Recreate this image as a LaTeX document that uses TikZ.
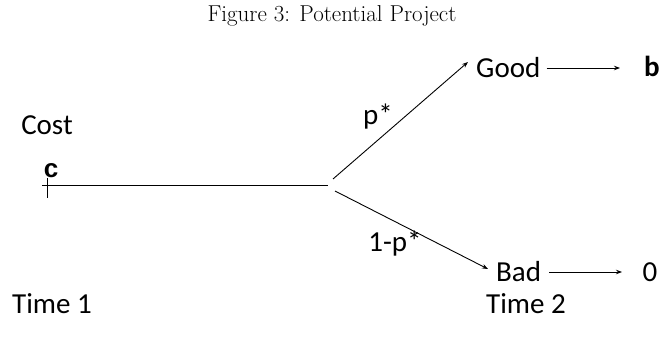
\documentclass[tikz,border=0pt]{standalone}
\usepackage{fontspec}
\newfontfamily\calfont{Carlito}
\newfontfamily\arfont{Liberation Sans}
\usetikzlibrary{arrows.meta}
\begin{document}
\begin{tikzpicture}[x=1pt,y=-1pt,
  lbl/.style={font=\calfont\fontsize{29}{32}\selectfont, inner sep=0pt, anchor=center},
  ln/.style={line width=0.9pt},
  arr/.style={line width=0.9pt, -{Stealth[length=6pt,width=4.5pt]}}]
\useasboundingbox (0,0) rectangle (665,343);
\node[font=\fontsize{23}{26}\selectfont, inner sep=0pt] (title) at (332,16) {Figure 3: Potential Project};
\node[lbl] (cost) at (47,125) {Cost};
\node[font=\arfont\bfseries\fontsize{26}{28}\selectfont, inner sep=0pt, anchor=base] (c) at (51,177) {c};
\coordinate (start) at (42,185);
\coordinate (split) at (328,185);
\coordinate (tickt) at (47,178);
\coordinate (tickb) at (47,198);
\draw[ln] (start) -- (split);
\draw[ln] (tickt) -- (tickb);
\coordinate (up0) at (333,179);
\coordinate (lo0) at (335,191);
\node[lbl, anchor=west] (good) at (476,68) {Good};
\node[lbl, anchor=west] (bad) at (496,272) {Bad};
\node[font=\calfont\bfseries\fontsize{29}{32}\selectfont, inner sep=0pt] (b) at (652,66) {b};
\node[lbl] (zero) at (650,272) {0};
\draw[arr] (up0) -- (468,62) coordinate (upt);
\draw[arr] (lo0) -- (488,269) coordinate (lot);
\draw[arr] (good.east) ++(6,0) coordinate (ga) -- (620,68) coordinate (gb);
\draw[arr] (bad.east) ++(8,0) coordinate (ba) -- (622,272) coordinate (bb);
\node[lbl] (p) at (378,117) {p*};
\node[lbl] (q) at (395,244) {1-p*};
\node[lbl] (t1) at (52,304) {Time 1};
\node[lbl] (t2) at (526,304) {Time 2};
\end{tikzpicture}
\end{document}
